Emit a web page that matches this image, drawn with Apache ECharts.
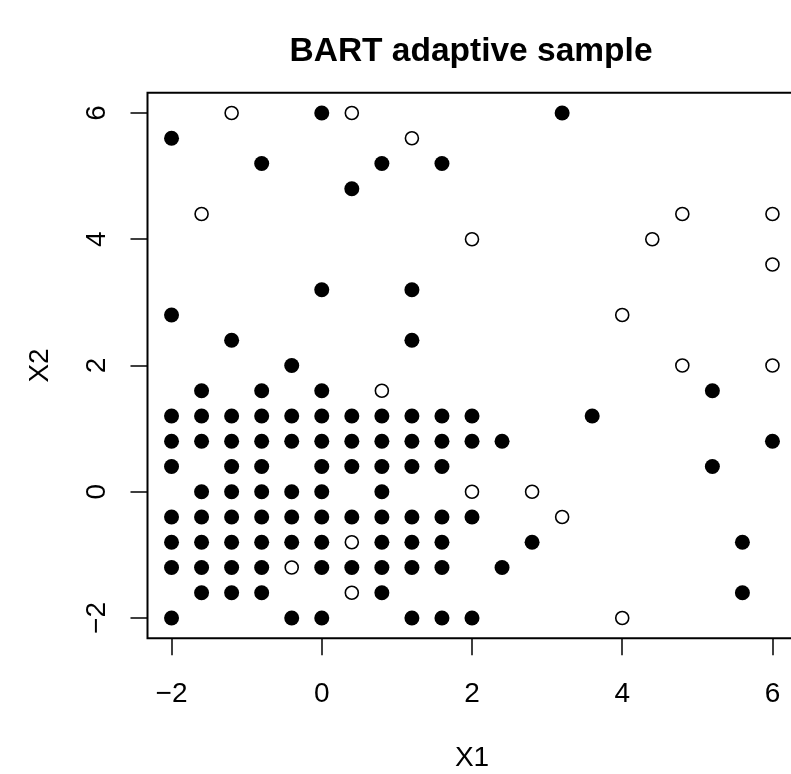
<!DOCTYPE html>
<html>
<head>
<meta charset="utf-8">
<script src="https://cdn.jsdelivr.net/npm/echarts@6/dist/echarts.min.js"></script>
<style>
html, body { margin: 0; padding: 0; background: #fff; overflow: hidden; }
#main { width: 791px; height: 774px; }
</style>
</head>
<body>
<div id="main"></div>
<script>
// points, [X1, X2]
var filledPts = [
	[0, 6], [3.2, 6],
	[-2, 5.6],
	[-0.8, 5.2], [0.8, 5.2], [1.6, 5.2],
	[0.4, 4.8],
	[0, 3.2], [1.2, 3.2],
	[-2, 2.8],
	[-1.2, 2.4], [1.2, 2.4],
	[-0.4, 2],
	[-1.6, 1.6], [-0.8, 1.6], [0, 1.6], [5.2, 1.6],
	[-2, 1.2], [-1.6, 1.2], [-1.2, 1.2], [-0.8, 1.2], [-0.4, 1.2], [0, 1.2], [0.4, 1.2], [0.8, 1.2], [1.2, 1.2], [1.6, 1.2], [2, 1.2], [3.6, 1.2],
	[-2, 0.8], [-1.6, 0.8], [-1.2, 0.8], [-0.8, 0.8], [-0.4, 0.8], [0, 0.8], [0.4, 0.8], [0.8, 0.8], [1.2, 0.8], [1.6, 0.8], [2, 0.8], [2.4, 0.8], [6, 0.8],
	[-2, 0.4], [-1.2, 0.4], [-0.8, 0.4], [0, 0.4], [0.4, 0.4], [0.8, 0.4], [1.2, 0.4], [1.6, 0.4], [5.2, 0.4],
	[-1.6, 0], [-1.2, 0], [-0.8, 0], [-0.4, 0], [0, 0], [0.8, 0],
	[-2, -0.4], [-1.6, -0.4], [-1.2, -0.4], [-0.8, -0.4], [-0.4, -0.4], [0, -0.4], [0.4, -0.4], [0.8, -0.4], [1.2, -0.4], [1.6, -0.4], [2, -0.4],
	[-2, -0.8], [-1.6, -0.8], [-1.2, -0.8], [-0.8, -0.8], [-0.4, -0.8], [0, -0.8], [0.8, -0.8], [1.2, -0.8], [1.6, -0.8], [2.8, -0.8], [5.6, -0.8],
	[-2, -1.2], [-1.6, -1.2], [-1.2, -1.2], [-0.8, -1.2], [0, -1.2], [0.4, -1.2], [0.8, -1.2], [1.2, -1.2], [1.6, -1.2], [2.4, -1.2],
	[-1.6, -1.6], [-1.2, -1.6], [-0.8, -1.6], [0.8, -1.6], [5.6, -1.6],
	[-2, -2], [-0.4, -2], [0, -2], [1.2, -2], [1.6, -2], [2, -2]
];
var openPts = [
	[-1.2, 6], [0.4, 6], [1.2, 5.6],
	[-1.6, 4.4], [4.8, 4.4], [6, 4.4],
	[2, 4], [4.4, 4], [6, 3.6], [4, 2.8],
	[4.8, 2], [6, 2], [0.8, 1.6],
	[2, 0], [2.8, 0], [3.2, -0.4],
	[0.4, -0.8], [-0.4, -1.2], [0.4, -1.6], [4, -2]
];
var xTicks = [-2, 0, 2, 4, 6];
var yTicks = [-2, 0, 2, 4, 6];

var myChart = echarts.init(document.getElementById('main'));

function minus(v) {
	return String(v).replace('-', '\u2212');
}

var font = 'Liberation Sans, Arial, sans-serif';

var option = {
	backgroundColor: '#fff',
	animation: false,
	title: {
		text: 'BART adaptive sample',
		left: 466,
		top: 30,
		textAlign: 'center',
		textStyle: { fontFamily: font, fontSize: 33.5, fontWeight: 'bold', color: '#000' }
	},
	// box runs a little past the right edge of the window, like the reference
	grid: {
		left: 147.5,
		top: 92.8,
		width: 649,
		height: 545.4,
		outerBoundsMode: 'none',
		show: true,
		borderColor: '#000',
		borderWidth: 2,
		backgroundColor: 'transparent'
	},
	xAxis: {
		type: 'value',
		min: -2.32,
		max: 6.32,
		name: 'X1',
		nameLocation: 'middle',
		nameGap: 106,
		nameTextStyle: { fontFamily: font, fontSize: 28, color: '#000' },
		axisLine: { show: false, onZero: false },
		splitLine: { show: false },
		axisTick: { show: true, length: 17, customValues: xTicks, lineStyle: { color: '#000', width: 1.5 } },
		axisLabel: { customValues: xTicks, margin: 42, fontFamily: font, fontSize: 28, color: '#000', formatter: minus }
	},
	yAxis: {
		type: 'value',
		min: -2.32,
		max: 6.32,
		name: 'X2',
		nameLocation: 'middle',
		nameGap: 93,
		nameRotate: 90,
		nameTextStyle: { fontFamily: font, fontSize: 28, color: '#000' },
		axisLine: { show: false, onZero: false },
		splitLine: { show: false },
		axisTick: { show: true, length: 17, customValues: yTicks, lineStyle: { color: '#000', width: 1.5 } },
		axisLabel: { customValues: yTicks, rotate: 90, margin: 36, fontFamily: font, fontSize: 28, color: '#000', formatter: minus }
	},
	series: [
		{
			type: 'scatter',
			data: filledPts,
			symbol: 'circle',
			symbolSize: 15,
			itemStyle: { color: '#000', opacity: 1 }
		},
		{
			type: 'scatter',
			data: openPts,
			symbol: 'circle',
			symbolSize: 13,
			itemStyle: { color: '#fff', borderColor: '#000', borderWidth: 1.6, opacity: 1 }
		}
	]
};
myChart.setOption(option);
</script>
</body>
</html>
